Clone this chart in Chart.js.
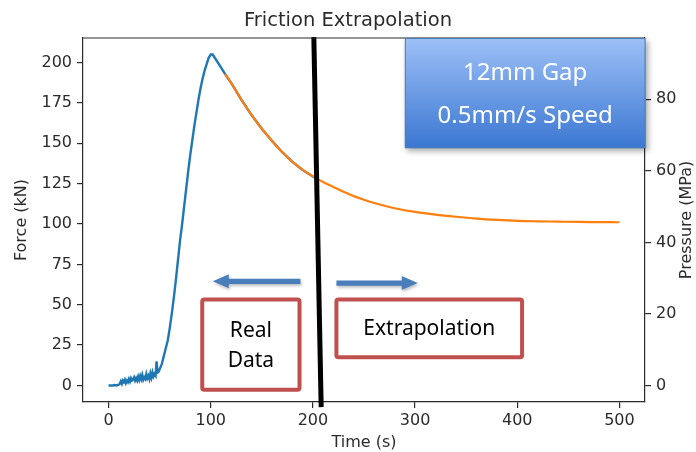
<!DOCTYPE html>
<html>
<head>
<meta charset="utf-8">
<title>Friction Extrapolation</title>
<script src="https://cdn.jsdelivr.net/npm/chart.js@4.4.1/dist/chart.umd.min.js"></script>
<style>
  html, body { margin: 0; padding: 0; background: #fff; }
  #wrap { width: 696px; height: 452px; }
</style>
</head>
<body>
<div id="wrap"><canvas id="chart" width="696" height="452"></canvas></div>
<script>
// ═══════════════════════════════════════════════════
//  Friction Extrapolation — force vs time
// ═══════════════════════════════════════════════════

// ── Data ───────────────────────────────────────────
const timeReal = [0, 2, 4, 6, 8, 10, 11, 12, 13, 14, 15, 16, 17, 18, 19, 20, 21, 22, 23, 24,
  25, 26, 27, 28, 29, 30, 31, 32, 33, 34, 35, 36, 37, 38, 39, 40, 41, 42, 43, 44, 45, 46,
  47, 48, 49, 50, 52, 54, 56, 58, 60, 62, 64, 66, 68, 70, 72, 74, 76, 78, 80, 82, 84, 86, 88, 90,
  92, 94, 96, 98, 100, 102, 104, 106, 108, 110, 112, 115, 120,
  130, 140, 150, 160, 170, 180, 190, 200, 205];
const forceReal = [0, 0, 0, 0.3, 0, 0.5, 1, 2.5, 1, 3, 2, 3.5, 1.5, 3, 2, 4, 2.5, 4.5, 3, 3.5,
  5, 3, 4.5, 3, 5.5, 3.5, 6, 4, 6.5, 3.5, 5, 4, 7, 4.5, 6, 4, 7.5, 5, 8, 5.5, 7, 6,
  15, 8, 8.5, 10, 13, 18, 23, 28, 36, 45, 55, 66, 78, 90, 100, 111, 122, 133, 143, 152, 161, 169, 177, 184,
  190, 195, 199, 203, 205, 205, 203, 201, 199, 197, 195, 192, 187.5,
  177, 167.5, 159, 151.5, 144.5, 138.5, 133.5, 129.5, 127.5];

const timeFit  = [114, 120, 130, 140, 150, 160, 170, 180, 190, 200, 210, 220, 230, 240, 250,
  260, 270, 280, 300, 320, 340, 360, 380, 400, 420, 440, 460, 480, 500];
const forceFit = [193, 187.5, 177, 167.5, 159, 151.5, 144.5, 138.5, 133.5, 129.5, 126, 123, 120, 117.3, 115,
  113, 111.3, 109.8, 107.5, 105.8, 104.5, 103.4, 102.6, 102, 101.7, 101.5, 101.3, 101.2, 101.1];

// hand-drawn divider between measured and extrapolated part
const dividerTime  = [200.9, 208.1];
const dividerForce = [215.9, -13.4];

const timeTicks     = [0, 100, 200, 300, 400, 500];
const forceTicks    = [0, 25, 50, 75, 100, 125, 150, 175, 200];
const pressureTicks = [0, 20, 40, 60, 80];

const KN_TO_MPA = 0.4513;   // pressure axis = force / contact area
const FORCE_MIN = -10.25, FORCE_MAX = 215.25;

// ── Look ───────────────────────────────────────────
const AXIS_FONT = 'DejaVu Sans';
const NOTE_FONT = '"Noto Sans"';
const INK = '#2b2b2b';

const pts = (xs, ys) => xs.map((x, i) => ({ x, y: ys[i] }));

const axisLook = {
  grid:   { drawOnChartArea: false, drawTicks: true, tickLength: 6, color: INK, lineWidth: 1.2 },
  border: { display: true, color: INK, width: 1.2 },
  ticks:  { color: INK, font: { family: AXIS_FONT, size: 16 }, padding: 5, autoSkip: false, maxRotation: 0 },
};

// ── Plot frame (top spine) ─────────────────────────
const frame = {
  id: 'frame',
  afterDatasetsDraw(chart) {
    const { ctx, chartArea: a } = chart;
    ctx.save();
    ctx.strokeStyle = INK;
    ctx.lineWidth = 1.2;
    ctx.beginPath();
    ctx.moveTo(a.left, a.top);
    ctx.lineTo(a.right, a.top);
    ctx.stroke();
    ctx.restore();
  }
};

// ── Slide annotations (boxes, arrows, notes) ───────
function arrow(ctx, x0, x1, yc) {
  const dir = Math.sign(x1 - x0);
  const head = 16, half = 7, shaft = 2.6;
  ctx.beginPath();
  ctx.moveTo(x0, yc - shaft);
  ctx.lineTo(x1 - dir * head, yc - shaft);
  ctx.lineTo(x1 - dir * head, yc - half);
  ctx.lineTo(x1, yc);
  ctx.lineTo(x1 - dir * head, yc + half);
  ctx.lineTo(x1 - dir * head, yc + shaft);
  ctx.lineTo(x0, yc + shaft);
  ctx.closePath();
  ctx.fill();
}

function redBox(ctx, x0, y0, x1, y1) {
  ctx.save();
  ctx.fillStyle = '#fff';
  ctx.strokeStyle = '#c0504d';
  ctx.lineWidth = 4;
  ctx.beginPath();
  ctx.roundRect(x0, y0, x1 - x0, y1 - y0, 2);
  ctx.fill();
  ctx.stroke();
  ctx.restore();
}

const annotations = {
  id: 'annotations',
  afterDraw(chart) {
    const { ctx, chartArea: a, scales: { x, y } } = chart;

    // right axis title reads bottom-to-top like matplotlib
    ctx.save();
    ctx.translate(687, (a.top + a.bottom) / 2);
    ctx.rotate(-Math.PI / 2);
    ctx.fillStyle = INK;
    ctx.font = `16px ${AXIS_FONT}`;
    ctx.textAlign = 'center';
    ctx.textBaseline = 'middle';
    ctx.fillText('Pressure (MPa)', 0, 0);
    ctx.restore();

    // arrows
    ctx.save();
    ctx.fillStyle = '#4a7ebb';
    ctx.shadowColor = 'rgba(0,0,0,0.25)';
    ctx.shadowBlur = 3;
    ctx.shadowOffsetX = 1;
    ctx.shadowOffsetY = 2;
    arrow(ctx, x.getPixelForValue(187.8), x.getPixelForValue(102), y.getPixelForValue(64.5));
    arrow(ctx, x.getPixelForValue(223), x.getPixelForValue(302.6), y.getPixelForValue(63.4));
    ctx.restore();

    // labelled boxes
    const rx0 = x.getPixelForValue(91.7), rx1 = x.getPixelForValue(186.9);
    const ry0 = y.getPixelForValue(53.3), ry1 = y.getPixelForValue(-2.7);
    redBox(ctx, rx0, ry0, rx1, ry1);
    const ex0 = x.getPixelForValue(223), ex1 = x.getPixelForValue(404.7);
    const ey0 = y.getPixelForValue(53.3), ey1 = y.getPixelForValue(17.5);
    redBox(ctx, ex0, ey0, ex1, ey1);

    ctx.save();
    ctx.fillStyle = '#000';
    ctx.font = `21px ${NOTE_FONT}`;
    ctx.textAlign = 'center';
    ctx.textBaseline = 'middle';
    const rc = (rx0 + rx1) / 2, rm = (ry0 + ry1) / 2;
    ctx.fillText('Real', rc, rm - 14);
    ctx.fillText('Data', rc, rm + 16);
    ctx.fillText('Extrapolation', (ex0 + ex1) / 2, (ey0 + ey1) / 2 + 1);
    ctx.restore();

    // test conditions box, top right
    const bx0 = x.getPixelForValue(290), bx1 = a.right + 0.5;
    const by0 = a.top, by1 = y.getPixelForValue(147);
    ctx.save();
    const g = ctx.createLinearGradient(0, by0, 0, by1);
    g.addColorStop(0, '#9dc0f6');
    g.addColorStop(1, '#3b77d2');
    ctx.shadowColor = 'rgba(0,0,0,0.35)';
    ctx.shadowBlur = 6;
    ctx.shadowOffsetX = 2;
    ctx.shadowOffsetY = 3;
    ctx.fillStyle = g;
    ctx.fillRect(bx0, by0, bx1 - bx0, by1 - by0);
    ctx.shadowColor = 'transparent';
    ctx.strokeStyle = '#4a7ebb';
    ctx.lineWidth = 1;
    ctx.strokeRect(bx0 + 0.5, by0 + 0.5, bx1 - bx0 - 1, by1 - by0 - 1);
    ctx.fillStyle = '#fff';
    ctx.font = `24px ${NOTE_FONT}`;
    ctx.textAlign = 'center';
    ctx.textBaseline = 'middle';
    const bc = (bx0 + bx1) / 2, bm = (by0 + by1) / 2;
    ctx.fillText('12mm Gap', bc, bm - 20);
    ctx.fillText('0.5mm/s Speed', bc, bm + 23);
    ctx.restore();
  }
};

// ── Chart ──────────────────────────────────────────
new Chart(document.getElementById('chart'), {
  type: 'line',
  data: {
    datasets: [
      { label: 'Divider', data: pts(dividerTime, dividerForce), borderColor: '#000',
        borderWidth: 5, pointRadius: 0, clip: false, order: 0 },
      { label: 'Extrapolation', data: pts(timeFit, forceFit), borderColor: '#ff7f0e',
        borderWidth: 2.2, pointRadius: 0, cubicInterpolationMode: 'monotone', order: 1 },
      { label: 'Real Data', data: pts(timeReal, forceReal), borderColor: '#1f77b4',
        borderWidth: 2.4, pointRadius: 0, tension: 0, order: 2 },
    ]
  },
  options: {
    responsive: false,
    animation: false,
    layout: { padding: 0 },
    plugins: {
      legend: { display: false },
      tooltip: { enabled: false },
      title: {
        display: true,
        text: 'Friction Extrapolation',
        color: INK,
        font: { family: AXIS_FONT, size: 19.5, weight: 'normal' },
        padding: { top: 9, bottom: 5.6 },
      }
    },
    scales: {
      x: {
        type: 'linear', min: -25, max: 525,
        ...axisLook,
        ticks: { ...axisLook.ticks, padding: 3 },
        afterBuildTicks: s => { s.ticks = timeTicks.map(v => ({ value: v })); },
        afterFit: s => { s.height = 50; },
        title: { display: true, text: 'Time (s)', color: INK,
          font: { family: AXIS_FONT, size: 16 }, padding: 0 },
      },
      y: {
        position: 'left', min: FORCE_MIN, max: FORCE_MAX,
        ...axisLook,
        afterBuildTicks: s => { s.ticks = forceTicks.map(v => ({ value: v })); },
        afterFit: s => { s.width = 83; },
        title: { display: true, text: 'Force (kN)', color: INK,
          font: { family: AXIS_FONT, size: 16 }, padding: { top: 12, bottom: 0 } },
      },
      y1: {
        position: 'right', min: FORCE_MIN * KN_TO_MPA, max: FORCE_MAX * KN_TO_MPA,
        ...axisLook,
        afterBuildTicks: s => { s.ticks = pressureTicks.map(v => ({ value: v })); },
        afterFit: s => { s.width = 51; },
      }
    }
  },
  plugins: [frame, annotations]
});
</script>
</body>
</html>
